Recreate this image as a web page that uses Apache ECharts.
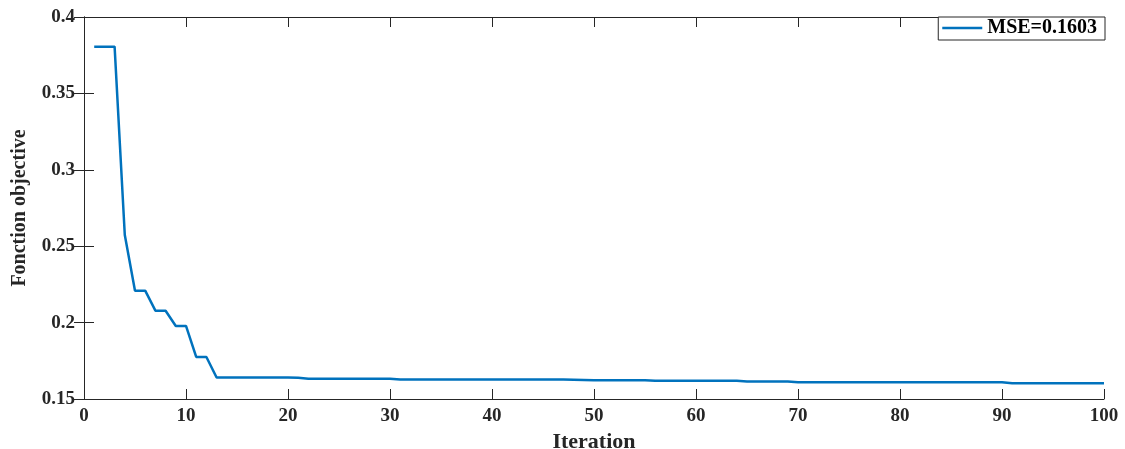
<!DOCTYPE html>
<html>
<head>
<meta charset="utf-8">
<script src="https://cdn.jsdelivr.net/npm/echarts@6/dist/echarts.min.js"></script>
<style>
html,body{margin:0;padding:0;background:#fff;}
#c{width:1125px;height:449px;}
</style>
</head>
<body>
<div id="c"></div>
<script>
const iterations = [1,2,3,4,5,6,7,8,9,10,11,12,13,14,15,16,17,18,19,20,21,22,23,24,25,26,27,28,29,30,31,32,33,34,35,36,37,38,39,40,41,42,43,44,45,46,47,48,49,50,51,52,53,54,55,56,57,58,59,60,61,62,63,64,65,66,67,68,69,70,71,72,73,74,75,76,77,78,79,80,81,82,83,84,85,86,87,88,89,90,91,92,93,94,95,96,97,98,99,100];
const objective = [
0.3806,0.3806,0.3806,0.2573,0.2209,0.2209,0.2078,0.2078,0.1978,0.1978,
0.1775,0.1775,0.1641,0.1641,0.1641,0.1641,0.1641,0.1641,0.1641,0.1641,
0.1639,0.1632,0.1632,0.1632,0.1632,0.1632,0.1632,0.1632,0.1632,0.1632,
0.1627,0.1627,0.1627,0.1627,0.1627,0.1627,0.1627,0.1627,0.1627,0.1627,
0.1627,0.1627,0.1627,0.1627,0.1627,0.1627,0.1627,0.1626,0.1625,0.1622,
0.1622,0.1622,0.1622,0.1622,0.1622,0.1619,0.1619,0.1619,0.1619,0.1619,
0.1619,0.1619,0.1619,0.1619,0.1615,0.1615,0.1615,0.1615,0.1615,0.1610,
0.1610,0.1610,0.1610,0.1610,0.1610,0.1610,0.1610,0.1610,0.1610,0.1610,
0.1610,0.1610,0.1610,0.1610,0.1610,0.1610,0.1610,0.1610,0.1610,0.1610,
0.1603,0.1603,0.1603,0.1603,0.1603,0.1603,0.1603,0.1603,0.1603,0.1603];
const seriesName = 'MSE=0.1603';
const xTitle = 'Iteration';
const yTitle = 'Fonction objective';

const font = '"Liberation Serif","Times New Roman",serif';
const axisColor = '#262626';
const data = iterations.map((x, i) => [x, objective[i]]);

const chart = echarts.init(document.getElementById('c'), null, {renderer: 'canvas'});
const baseAxisLine = {show: true, lineStyle: {color: axisColor, width: 1}};
const tick = {show: true, inside: true, length: 10, lineStyle: {color: axisColor, width: 1}};
chart.setOption({
  animation: false,
  backgroundColor: '#fff',
  grid: {left: 84, right: 21, top: 17, bottom: 50, containLabel: false, outerBoundsMode: 'none'},
  legend: {
    data: [seriesName],
    right: 20, top: 17,
    icon: 'rect',
    itemWidth: 40, itemHeight: 2.5,
    itemGap: 4,
    padding: [1, 8, 2, 4],
    borderColor: axisColor, borderWidth: 1,
    borderRadius: 0,
    backgroundColor: '#fff',
    textStyle: {fontFamily: font, fontWeight: 'bold', fontSize: 20, color: '#000', padding: [0,0,0,0]}
  },
  xAxis: [{
    type: 'value', min: 0, max: 100, interval: 10,
    name: xTitle, nameLocation: 'middle', nameGap: 30,
    nameTextStyle: {fontFamily: font, fontWeight: 'bold', fontSize: 22, color: '#262626'},
    axisLine: baseAxisLine,
    axisTick: tick,
    axisLabel: {fontFamily: font, fontWeight: 'bold', fontSize: 19, color: '#262626', margin: 8},
    splitLine: {show: false}
  }, {
    type: 'value', min: 0, max: 100, interval: 10, position: 'top',
    axisLine: baseAxisLine,
    axisTick: tick,
    axisLabel: {show: false}, splitLine: {show: false}
  }],
  yAxis: [{
    type: 'value', min: 0.15, max: 0.4, interval: 0.05,
    name: yTitle, nameLocation: 'middle', nameGap: 54, nameRotate: 90,
    nameTextStyle: {fontFamily: font, fontWeight: 'bold', fontSize: 20, color: '#262626'},
    axisLine: baseAxisLine,
    axisTick: tick,
    axisLabel: {fontFamily: font, fontWeight: 'bold', fontSize: 19, color: '#262626', margin: 9,
      formatter: v => String(+v.toFixed(2))},
    splitLine: {show: false}
  }, {
    type: 'value', min: 0.15, max: 0.4, interval: 0.05, position: 'right',
    axisLine: baseAxisLine,
    axisTick: tick,
    axisLabel: {show: false}, splitLine: {show: false}
  }],
  series: [{
    name: seriesName, type: 'line', data: data,
    xAxisIndex: 0, yAxisIndex: 0,
    symbol: 'none', showSymbol: false,
    lineStyle: {color: '#0072BD', width: 2.5},
    itemStyle: {color: '#0072BD'}
  }]
});
</script>
</body>
</html>
